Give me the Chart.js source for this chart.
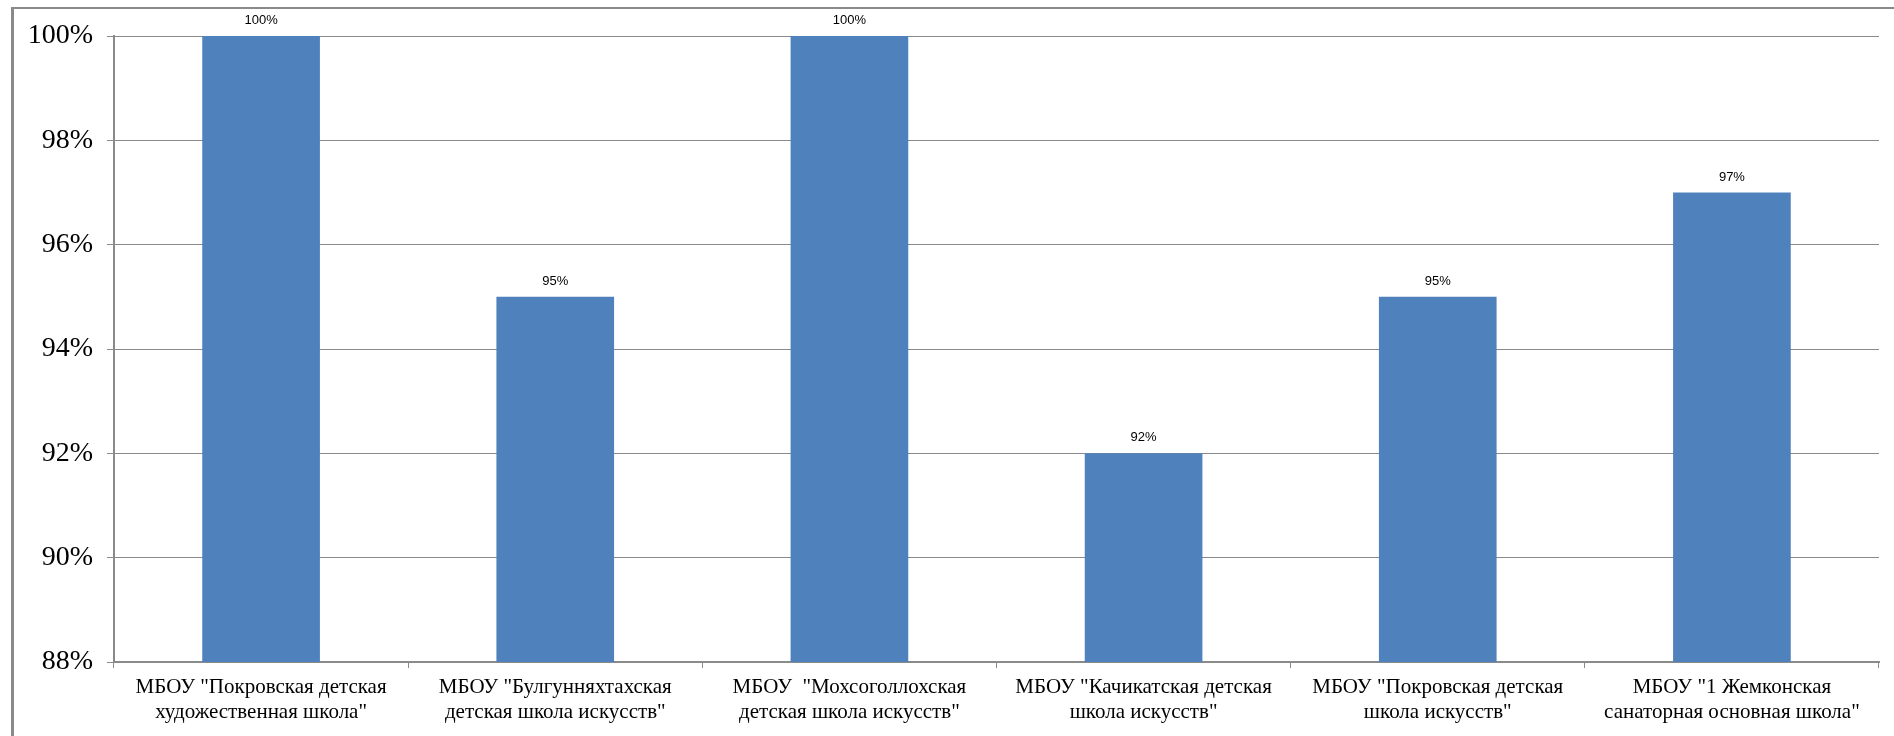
<!DOCTYPE html>
<html>
<head>
<meta charset="utf-8">
<script src="https://cdn.jsdelivr.net/npm/chart.js@4"></script>
<style>
  html, body { margin: 0; padding: 0; background: #fff; overflow: hidden; }
  #wrap { position: relative; width: 1894px; height: 736px; }
  #frame { position: absolute; left: 11px; top: 7px; width: 1900px; height: 800px;
           border-left: 3px solid #8a8a8a; border-top: 2px solid #8a8a8a; }
  canvas { position: absolute; left: 0; top: 0; }
</style>
</head>
<body>
<div id="wrap">
  <div id="frame"></div>
  <canvas id="c" width="1894" height="736"></canvas>
</div>
<script>
const categories = [
  ['МБОУ "Покровская детская', 'художественная школа"'],
  ['МБОУ "Булгунняхтахская', 'детская школа искусств"'],
  ['МБОУ  "Мохсоголлохская', 'детская школа искусств"'],
  ['МБОУ "Качикатская детская', 'школа искусств"'],
  ['МБОУ "Покровская детская', 'школа искусств"'],
  ['МБОУ "1 Жемконская', 'санаторная основная школа"']
];
const values = [100, 95, 100, 92, 95, 97];
const yTicks = [88, 90, 92, 94, 96, 98, 100];

const dataLabels = {
  id: 'dataLabels',
  afterDatasetsDraw(chart) {
    const ctx = chart.ctx;
    const meta = chart.getDatasetMeta(0);
    ctx.save();
    ctx.font = '13px "Liberation Sans", Arial, sans-serif';
    ctx.fillStyle = '#000';
    ctx.textAlign = 'center';
    ctx.textBaseline = 'bottom';
    meta.data.forEach((bar, i) => {
      ctx.fillText(values[i] + '%', bar.x, bar.y - 9);
    });
    ctx.restore();
  }
};

new Chart(document.getElementById('c'), {
  type: 'bar',
  data: {
    labels: categories,
    datasets: [{
      data: values,
      backgroundColor: '#4f81bd',
      borderWidth: 0,
      barPercentage: 0.4,
      categoryPercentage: 1.0
    }]
  },
  options: {
    responsive: false,
    animation: false,
    devicePixelRatio: 1,
    layout: { padding: { left: 0, right: 15, top: 36, bottom: 0 } },
    plugins: { legend: { display: false }, tooltip: { enabled: false } },
    scales: {
      x: {
        grid: { display: true, drawOnChartArea: false, drawTicks: true, tickLength: 6, color: '#8a8a8a', offset: true },
        border: { display: true, color: '#8a8a8a', width: 2 },
        ticks: {
          color: '#000',
          padding: 7,
          maxRotation: 0,
          autoSkip: false,
          font: { family: '"Liberation Serif", "Times New Roman", serif', size: 21, lineHeight: 1.2 }
        },
        afterFit(scale) { scale.height = 74; }
      },
      y: {
        min: 88,
        max: 100,
        afterBuildTicks(scale) { scale.ticks = yTicks.map(v => ({ value: v })); },
        grid: { color: '#8a8a8a', tickLength: 7, drawTicks: true },
        border: { display: true, color: '#8a8a8a', width: 2 },
        ticks: {
          color: '#000',
          padding: 14,
          callback: v => v + '%',
          font: { family: '"Liberation Serif", "Times New Roman", serif', size: 28 }
        },
        afterFit(scale) { scale.width = 114; }
      }
    }
  },
  plugins: [dataLabels]
});
</script>
</body>
</html>
